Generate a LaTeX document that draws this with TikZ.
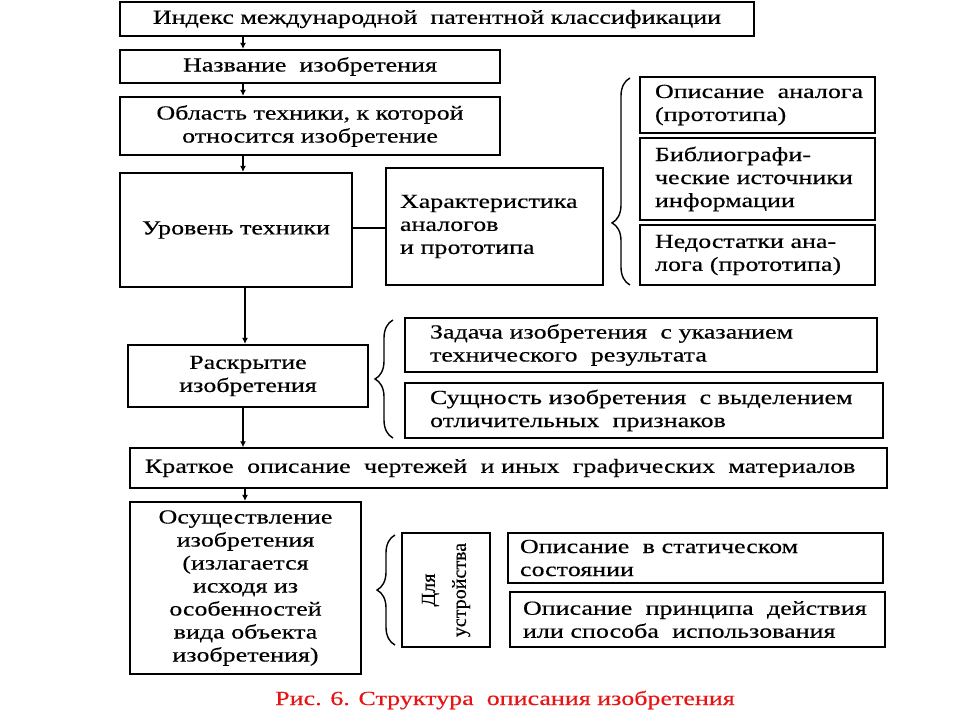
\documentclass[tikz,border=0pt]{standalone}
\usepackage{fontspec}
\setmainfont[FakeStretch=1.3, FakeBold=0.4]{Liberation Serif}
\newfontfamily\narrowserif[FakeBold=0.4]{Liberation Serif}
\usetikzlibrary{arrows.meta,decorations.pathreplacing}
\definecolor{captionred}{RGB}{230, 20, 20}

\begin{document}
\begin{tikzpicture}[x=1pt, y=-1pt, font=\fontsize{20}{23}\selectfont,
  blk/.style={draw, line width=2.2pt, align=center, inner sep=2pt},
  lblk/.style={draw, line width=2.2pt, align=left, inner ysep=2pt},
  flow/.style={-{Latex[length=6pt, width=6pt]}, line width=1.3pt},
  curly/.style={decorate, decoration={brace, amplitude=18pt, aspect=#1}, line width=1.4pt},
  curly/.default=0.5]
\useasboundingbox (0,0) rectangle (960,720);
\coordinate (spine) at (243,0);
\coordinate (spinelow) at (245,0);

\node[blk, minimum width=634pt, minimum height=34pt] (mpk) at (437,19) {Индекс международной~ патентной классификации};
\node[blk, minimum width=380pt, minimum height=33pt] (title) at (310,66.5) {Название~ изобретения};
\node[blk, minimum width=380pt, minimum height=58pt] (field) at (310,126) {Область техники, к которой\\относится изобретение};
\node[blk, minimum width=232pt, minimum height=114pt] (level) at (236,230) {Уровень техники};
\node[lblk, text width=189pt, inner xsep=14pt, minimum height=117pt] (charac) at (494.5,226.5) {Характеристика\\аналогов\\и прототипа};

\node[lblk, text width=205pt, inner xsep=15pt, minimum height=56pt] (analog) at (757.5,105) {Описание~ аналога\\(прототипа)};
\node[lblk, text width=205pt, inner xsep=15pt, minimum height=82pt] (biblio) at (757.5,179) {Библиографи-\\ческие источники\\информации};
\node[lblk, text width=205pt, inner xsep=15pt, minimum height=60pt] (flaws) at (757.5,255) {Недостатки ана-\\лога (прототипа)};

\node[blk, minimum width=240pt, minimum height=62pt] (disclose) at (248,376) {Раскрытие\\изобретения};
\node[lblk, text width=422pt, inner xsep=25pt, minimum height=54pt] (task) at (641,345) {Задача изобретения~ с указанием\\технического~ результата};
\node[lblk, text width=428pt, inner xsep=25pt, minimum height=55pt] (essence) at (644,410.5) {\mbox{Сущность изобретения~ с выделением}\\отличительных~ признаков};

\node[lblk, line width=1.5pt, text width=727pt, inner xsep=15pt, minimum height=40pt] (brief) at (508.5,468) {Краткое~ описание~ чертежей~ и иных~ графических~ материалов};

\node[blk, minimum width=231pt, minimum height=172pt] (impl) at (245.5,588) {Осуществление\\изобретения\\(излагается\\исходя из\\особенностей\\вида объекта\\изобретения)};
\node[blk, rotate=90, minimum width=114pt, minimum height=88pt, inner sep=0pt, font=\narrowserif\fontsize{20}{31}\selectfont] (device) at (446,590) {Для\\устройства};
\node[lblk, text width=351pt, inner xsep=12pt, minimum height=50pt] (static) at (695.5,558) {Описание~ в статическом\\состоянии};
\node[lblk, text width=349pt, inner xsep=13pt, minimum height=55pt] (principle) at (697.5,619.5) {Описание~ принципа~ действия\\или способа~ использования};

\node[text=captionred] (caption) at (505,700) {Рис. 6. Структура~ описания изобретения};

\draw[flow] (mpk.south -| spine) -- (title.north -| spine);
\draw[flow] (title.south -| spine) -- (field.north -| spine);
\draw[flow] (field.south -| spine) -- (level.north -| spine);
\draw[flow] (level.south -| spinelow) -- (disclose.north -| spinelow);
\draw[flow] (disclose.south -| spine) -- (brief.north -| spine);
\draw[flow] (brief.south -| spinelow) -- (impl.north -| spinelow);
\draw[line width=1.8pt] (level.east |- 0,228) -- (charac.west |- 0,228);

\draw[curly=0.3] (630,285) -- (630,78);
\draw[curly] (393,438) -- (393,320);
\draw[curly] (395,645) -- (395,535);
\end{tikzpicture}
\end{document}
